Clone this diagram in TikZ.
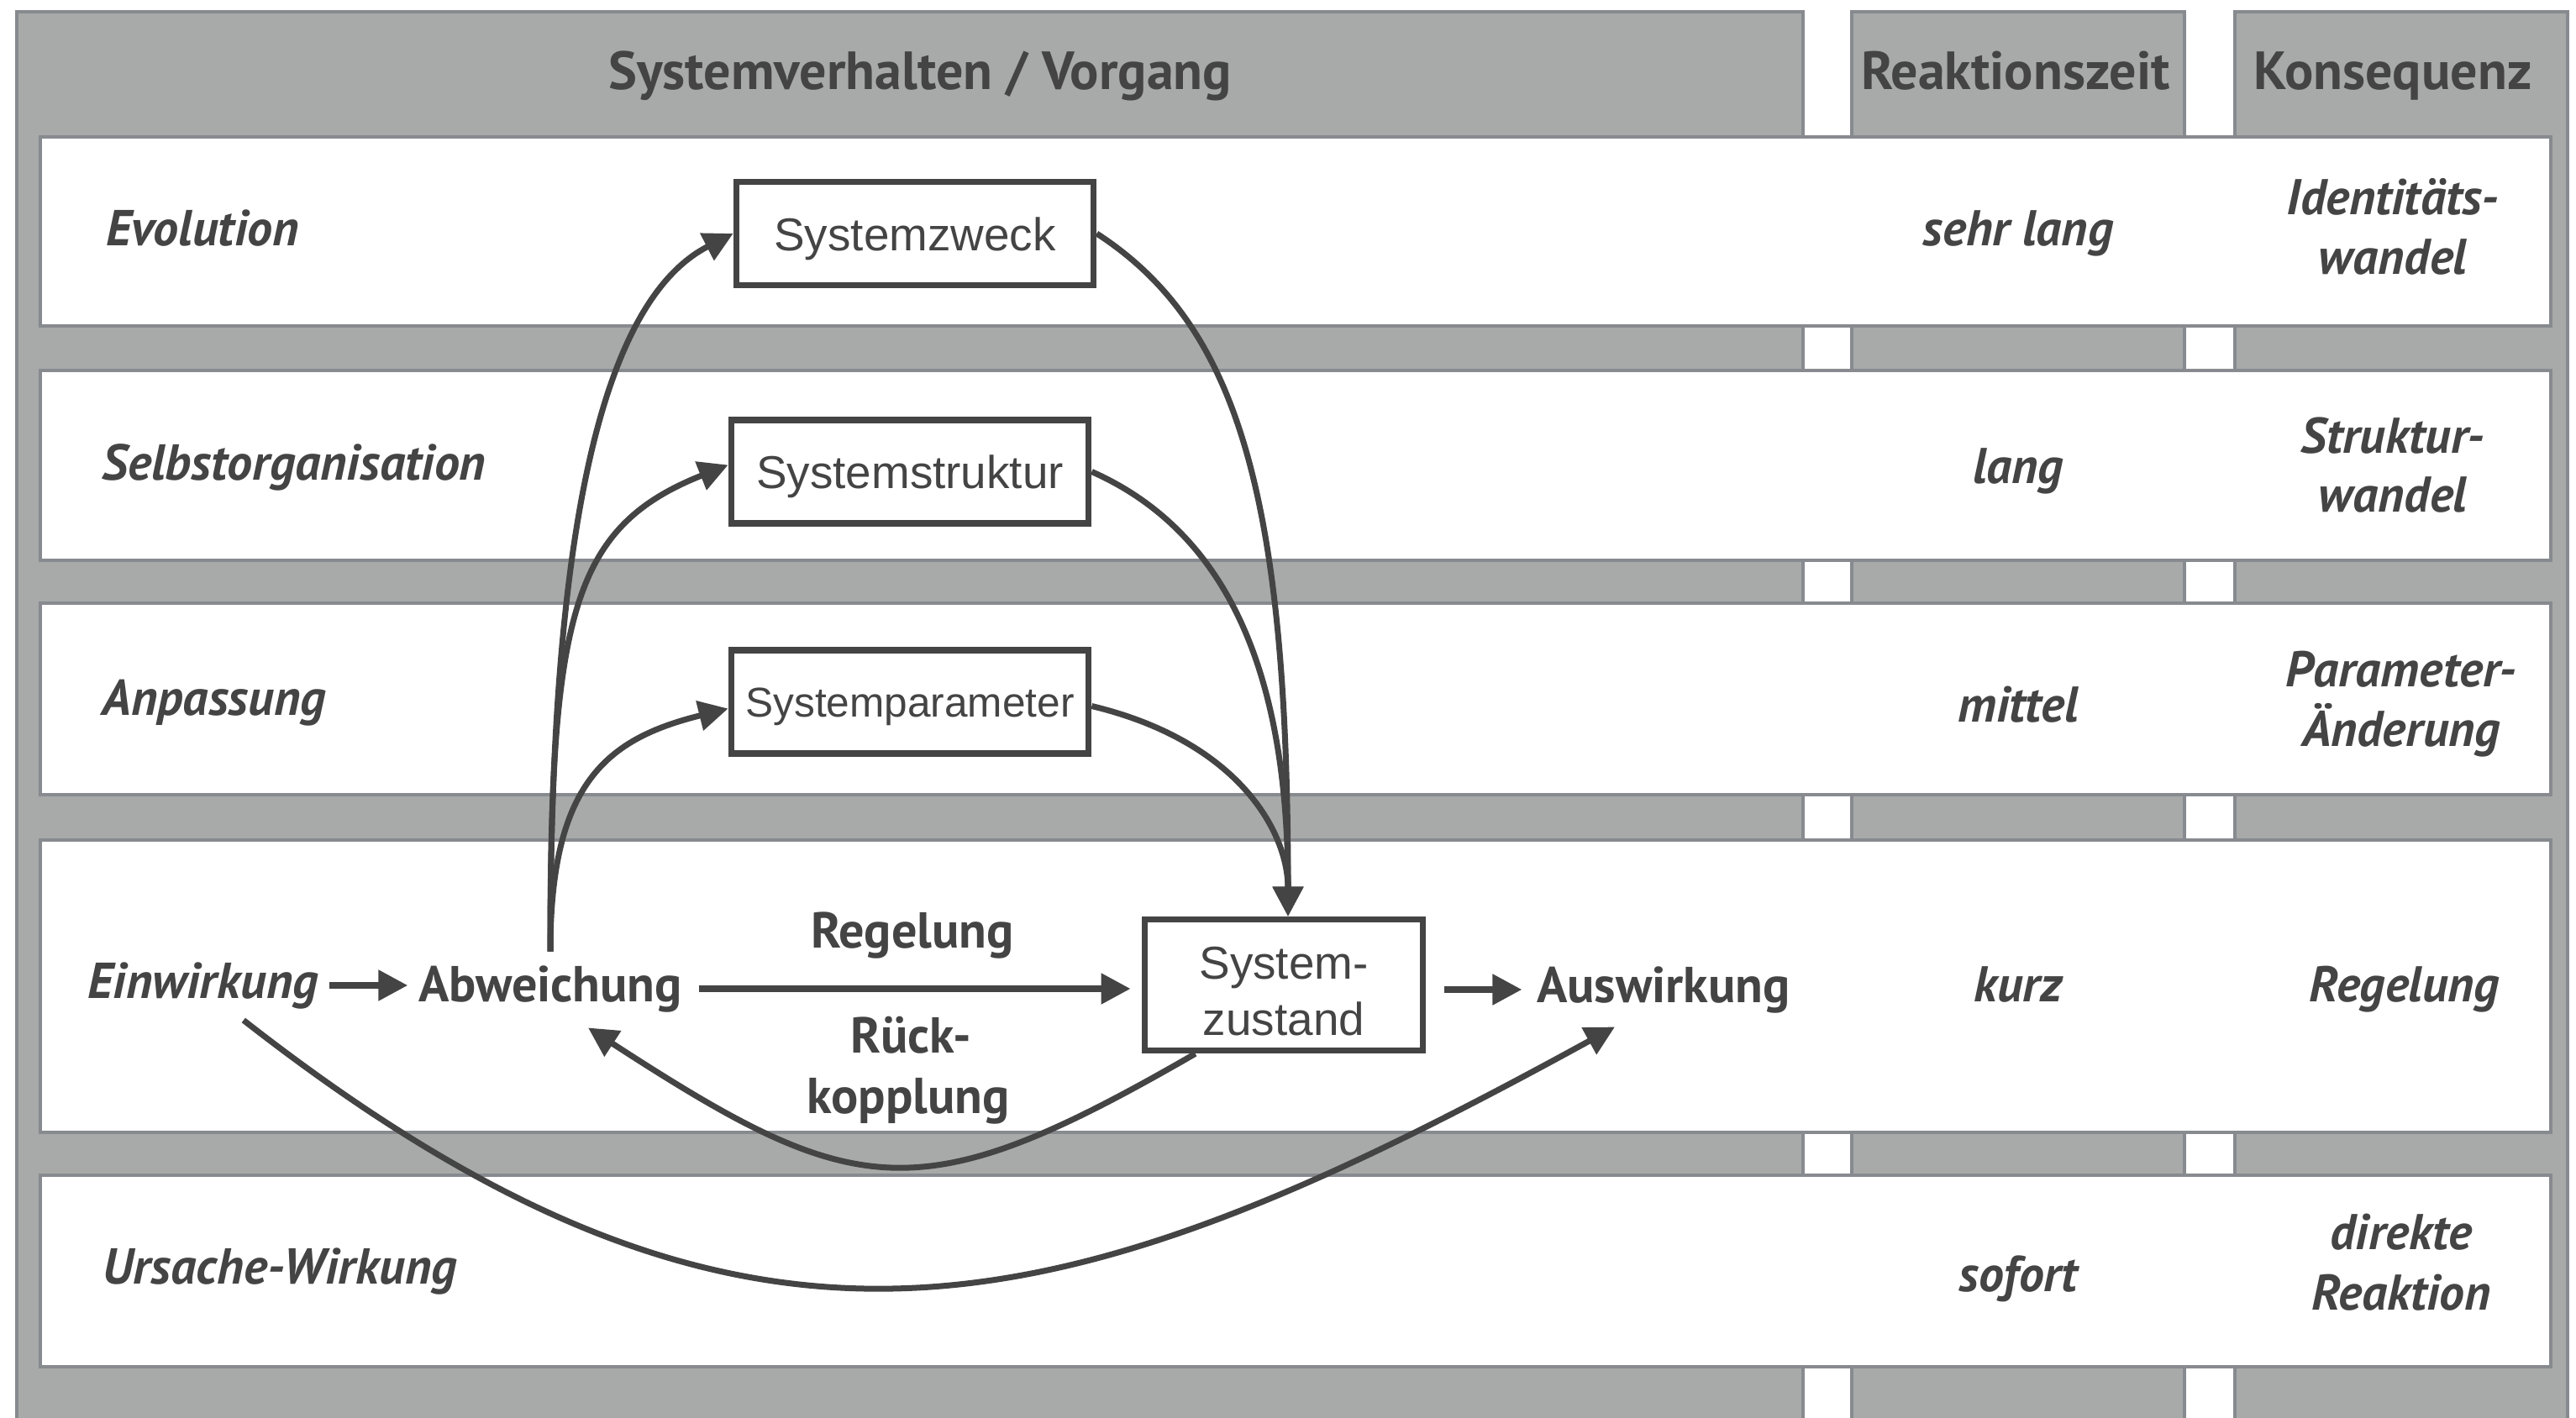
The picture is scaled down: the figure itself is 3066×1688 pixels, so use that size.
\documentclass[tikz,border=0pt]{standalone}
\usepackage{fontspec}
\usetikzlibrary{arrows.meta}
\newfontfamily\labfont{PT Sans}
\newfontfamily\boxfont{Liberation Sans}
\definecolor{colfill}{HTML}{A7AAA9}
\definecolor{colline}{HTML}{878A8E}
\definecolor{ink}{HTML}{444444}
\begin{document}
\begin{tikzpicture}[x=0.01cm,y=-0.01cm,
  column/.style={fill=colfill, draw=colline, line width=0.045cm},
  rowband/.style={fill=white, draw=colline, line width=0.045cm},
  head/.style={font=\labfont\bfseries\fontsize{18.2}{21}\selectfont, text=ink, inner sep=0, anchor=base},
  lab/.style={font=\labfont\bfseries\itshape\fontsize{17.1}{20}\selectfont, text=ink, inner sep=0, anchor=base west},
  mid/.style={font=\labfont\bfseries\fontsize{17.1}{20}\selectfont, text=ink, inner sep=0, anchor=base},
  cell/.style={font=\labfont\bfseries\itshape\fontsize{17}{20}\selectfont, text=ink, inner sep=0, anchor=base},
  sysbox/.style={draw=ink, line width=0.075cm, fill=white, font=\boxfont\fontsize{15.6}{19}\selectfont, text=ink, inner sep=0, minimum width=4.25cm, minimum height=1.23cm, text height=0.4cm, text depth=0cm},
  boxtext/.style={font=\boxfont\fontsize{15.6}{19}\selectfont, text=ink, inner sep=0, align=center},
  conn/.style={draw=ink, line width=0.07cm, -{Triangle[length=0.35cm,width=0.35cm]}},
  sconn/.style={conn, line width=0.08cm},
]
\useasboundingbox (0,0) rectangle (3066,1688);
\clip (0,0) rectangle (3066,1688);
\fill[white] (0,0) rectangle (3066,1688);
% columns
\draw[column] (20,14) rectangle (2146,1750);
\draw[column] (2204,14) rectangle (2600,1750);
\draw[column] (2660,14) rectangle (3056,1750);
% rows
\draw[rowband] (48,163) rectangle (3036,388);
\draw[rowband] (48,441) rectangle (3036,667);
\draw[rowband] (48,718) rectangle (3036,946);
\draw[rowband] (48,1000) rectangle (3036,1348);
\draw[rowband] (48,1399) rectangle (3036,1627);
% headers
\node[head] (h1) at (1095,107) {Systemverhalten / Vorgang};
\node[head] (h2) at (2399,107) {Reaktionszeit};
\node[head] (h3) at (2848,107) {Konsequenz};
% row labels
\node[lab] (l1) at (126,292) {Evolution};
\node[lab] (l2) at (121,571) {Selbstorganisation};
\node[lab] (l3) at (121,851) {Anpassung};
\node[lab] (ein) at (104,1188) {Einwirkung};
\node[lab] (l5) at (122,1528) {Ursache-Wirkung};
% reaction time
\node[cell] (r1) at (2402,292) {sehr lang};
\node[cell] (r2) at (2402,575) {lang};
\node[cell] (r3) at (2402,859) {mittel};
\node[cell] (r4) at (2402,1192) {kurz};
\node[cell] (r5) at (2402,1537) {sofort};
% consequence
\node[cell] (k1a) at (2848,255) {Identitäts-};
\node[cell] (k1b) at (2848,327) {wandel};
\node[cell] (k2a) at (2848,539) {Struktur-};
\node[cell] (k2b) at (2848,609) {wandel};
\node[cell] (k3a) at (2858,817) {Parameter-};
\node[cell] (k3b) at (2858,888) {Änderung};
\node[cell] (k4) at (2862,1192) {Regelung};
\node[cell] (k5a) at (2858,1487) {direkte};
\node[cell] (k5b) at (2858,1559) {Reaktion};
% middle labels
\node[mid] (abw) at (655,1192) {Abweichung};
\node[mid] (reg) at (1086,1128) {Regelung};
\node[mid] (rk1) at (1084,1253) {Rück-};
\node[mid] (rk2) at (1081,1325) {kopplung};
\node[mid] (ausw) at (1980,1193) {Auswirkung};
% boxes
\node[sysbox] (sz) at (1089,278) {Systemzweck};
\node[sysbox] (ss) at (1083,561.5) {Systemstruktur};
\node[sysbox, font=\boxfont\fontsize{14.1}{17}\selectfont, text height=0.36cm] (sp) at (1083,835.5) {Systemparameter};
\node[sysbox, minimum width=3.31cm, minimum height=1.56cm] (zust) at (1528,1172.5) {};
\node[boxtext] (zt) at ([yshift=-0.08cm]zust.center) {System-\\zustand};
% straight connectors
\draw[sconn, shorten <=0.12cm, shorten >=0.12cm] (ein.east) -- (ein.east -| abw.west);
\draw[sconn, shorten <=0.19cm, shorten >=0.13cm] (abw.east) -- (abw.east -| zust.west);
\draw[sconn, shorten <=0.22cm, shorten >=0.17cm] (ausw.west -| zust.east) -- (ausw.west);
% up curves
\draw[conn] ([yshift=0.16cm]abw.north) .. controls +(0,-410) and +(-178,91) .. (sz.west);
\draw[conn] ([yshift=0.16cm]abw.north) .. controls +(0,-400) and +(-186,74) .. ([yshift=0.08cm]ss.west);
\draw[conn] ([yshift=0.16cm]abw.north) .. controls +(0,-200) and +(-145,36) .. ([yshift=-0.08cm]sp.west);
% down curves
\draw[conn] (sz.east) .. controls +(168,109) and +(0,-500) .. ([xshift=0.05cm]zust.north);
\draw[conn] (ss.east) .. controls +(183,81) and +(0,-250) .. ([xshift=0.05cm]zust.north);
\draw[conn] ([yshift=-0.05cm]sp.east) .. controls +(175,42) and +(0,-100) .. ([xshift=0.05cm]zust.north);
% feedback
\draw[conn] ([xshift=0.64cm]zust.south west) .. controls +(-329,190) and +(319,207) .. ([xshift=0.45cm,yshift=-0.18cm]abw.south);
% cause-effect
\draw[conn] ([xshift=0.48cm,yshift=-0.13cm]ein.south) .. controls +(600,469) and +(-667,366) .. ([xshift=-0.58cm,yshift=-0.16cm]ausw.south);
\end{tikzpicture}
\end{document}
